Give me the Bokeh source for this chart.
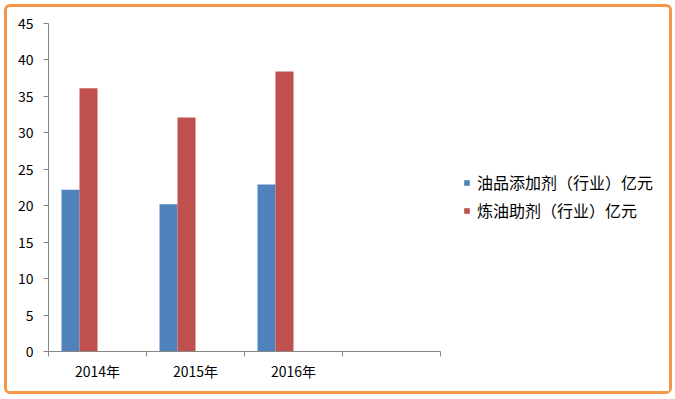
import numpy as np
from bokeh.plotting import figure
from bokeh.models import (Range1d, FixedTicker, SingleIntervalTicker, Legend, LegendItem,
                          ColumnDataSource)
from bokeh.embed import file_html
from bokeh.resources import INLINE

categories = ["2014年", "2015年", "2016年", ""]
series_names = ["油品添加剂（行业）亿元", "炼油助剂（行业）亿元"]
additive = [22.2, 20.2, 22.9]
refining = [36.1, 32.1, 38.4]
colors = ["#4F81BD", "#C0504D"]

FONT = "Noto Sans CJK SC"
GRID = "#868686"

# plot area: categories occupy 392 px, the frame extends to the right to hold the legend
cat_px = 392
frame_px = 616
n = len(categories)
x_end = n * frame_px / cat_px

p = figure(width=668, height=390, output_backend="svg", toolbar_location=None,
           x_range=Range1d(0, x_end), y_range=Range1d(0, 45),
           min_border_left=41, min_border_right=11, min_border_top=16, min_border_bottom=46,
           styles={"border": "3px solid #F79646", "border-radius": "6px",
                   "margin-left": "4px", "margin-top": "4px"})
p.outline_line_color = None
p.background_fill_color = "white"
p.border_fill_color = "white"

bar_w = 18 / 98
idx = np.arange(len(additive))
src1 = ColumnDataSource(dict(x=idx + 0.5 - 1.5 * bar_w, top=additive))
src2 = ColumnDataSource(dict(x=idx + 0.5 - 0.5 * bar_w, top=refining))
r1 = p.vbar(x="x", top="top", width=bar_w, bottom=0, source=src1, fill_color=colors[0], line_color=None)
r2 = p.vbar(x="x", top="top", width=bar_w, bottom=0, source=src2, fill_color=colors[1], line_color=None)

# y axis
p.yaxis.ticker = SingleIntervalTicker(interval=5)
p.yaxis.axis_line_color = GRID
p.yaxis.major_tick_line_color = GRID
p.yaxis.major_tick_out = 5
p.yaxis.major_tick_in = 0
p.yaxis.minor_tick_line_color = None
p.yaxis.major_label_standoff = 10
p.yaxis.major_label_text_font = FONT
p.yaxis.major_label_text_font_size = "14px"
p.yaxis.major_label_text_color = "#000000"
p.ygrid.grid_line_color = GRID
p.ygrid.grid_line_width = 1
p.ygrid.bounds = (0, n)

# x axis
centers = [i + 0.5 for i in range(n)]
bounds = list(range(n + 1))
p.xaxis.ticker = FixedTicker(ticks=centers, minor_ticks=bounds)
p.xaxis.bounds = (0, n)
p.xaxis.major_label_overrides = {c: lab for c, lab in zip(centers, categories)}
p.xaxis.axis_line_color = GRID
p.xaxis.major_tick_line_color = None
p.xaxis.minor_tick_line_color = GRID
p.xaxis.minor_tick_out = 5
p.xaxis.minor_tick_in = 0
p.xaxis.major_label_standoff = 3
p.xaxis.major_label_text_font = FONT
p.xaxis.major_label_text_font_size = "14px"
p.xaxis.major_label_text_color = "#000000"
p.xgrid.grid_line_color = None

legend = Legend(items=[LegendItem(label=series_names[0], renderers=[r1]),
                       LegendItem(label=series_names[1], renderers=[r2])],
                location=(415, 129), orientation="vertical")
legend.glyph_width = 7
legend.glyph_height = 7
legend.label_standoff = 7
legend.label_height = 20
legend.spacing = 4
legend.padding = 0
legend.margin = 0
legend.border_line_color = None
legend.background_fill_alpha = 0
legend.label_text_font = FONT
legend.label_text_font_size = "16px"
legend.label_text_color = "#000000"
p.add_layout(legend, "center")

open("out.html", "w").write(file_html(p, INLINE))
